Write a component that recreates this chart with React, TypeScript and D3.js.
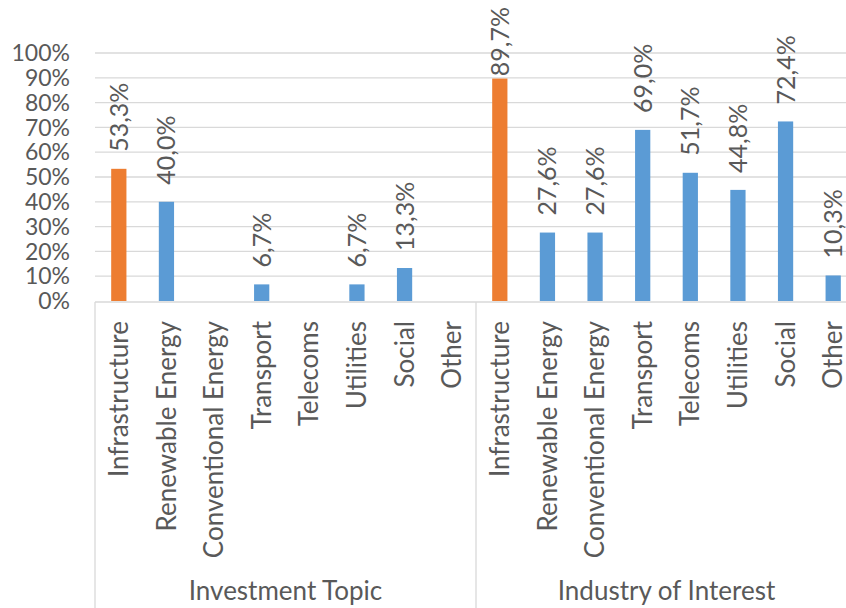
import React, { useEffect, useRef } from 'react';
import * as d3 from 'd3';

const groups = ['Investment Topic', 'Industry of Interest'];
const categories = [
  'Infrastructure',
  'Renewable Energy',
  'Conventional Energy',
  'Transport',
  'Telecoms',
  'Utilities',
  'Social',
  'Other',
];
// percent values, null = no answer shown
const investmentTopic: (number | null)[] = [53.3, 40.0, null, 6.7, null, 6.7, 13.3, null];
const industryOfInterest: (number | null)[] = [89.7, 27.6, 27.6, 69.0, 51.7, 44.8, 72.4, 10.3];
const yTicks = [0, 10, 20, 30, 40, 50, 60, 70, 80, 90, 100];

const ORANGE = '#ED7D31';
const BLUE = '#5B9BD5';
const TEXT = '#595959';
const GRID = '#D9D9D9';
const FONT = 'Lato, "Open Sans", sans-serif';

interface Bar {
  key: string;
  group: string;
  category: string;
  value: number | null;
}

const bars: Bar[] = [
  ...categories.map((c, i) => ({ key: `${groups[0]}|${c}`, group: groups[0], category: c, value: investmentTopic[i] })),
  ...categories.map((c, i) => ({ key: `${groups[1]}|${c}`, group: groups[1], category: c, value: industryOfInterest[i] })),
];

const App = () => {
  const svgRef = useRef<SVGSVGElement>(null);

  useEffect(() => {
    if (!svgRef.current) return;
    const width = 846;
    const height = 608;
    const svg = d3.select(svgRef.current);
    svg.selectAll('*').remove();

    const left = 95;
    const right = 857;
    const top = 53;
    const bottom = 301;
    const tickSize = 23;
    const labelSize = 25;
    const catSize = 26;

    const x = d3.scaleBand<string>()
      .domain(bars.map(d => d.key))
      .range([left, right])
      .paddingInner(0.68)
      .paddingOuter(0.34);

    const xGroup = d3.scaleBand<string>()
      .domain(groups)
      .range([left, right]);

    const y = d3.scaleLinear().domain([0, 100]).range([bottom, top]);

    // gridlines
    svg.append('g')
      .selectAll('line')
      .data(yTicks.slice(1))
      .enter()
      .append('line')
      .attr('x1', left)
      .attr('x2', right)
      .attr('y1', d => y(d))
      .attr('y2', d => y(d))
      .attr('stroke', GRID)
      .attr('stroke-width', 1.3);

    // y tick labels
    svg.append('g')
      .selectAll('text')
      .data(yTicks)
      .enter()
      .append('text')
      .attr('x', 70)
      .attr('y', d => y(d))
      .attr('dy', '0.36em')
      .attr('text-anchor', 'end')
      .attr('font-family', FONT)
      .attr('font-size', tickSize)
      .attr('fill', TEXT)
      .text(d => `${d}%`);

    // bars
    svg.append('g')
      .selectAll('rect')
      .data(bars.filter(d => d.value !== null))
      .enter()
      .append('rect')
      .attr('x', d => x(d.key)!)
      .attr('width', x.bandwidth())
      .attr('y', d => y(d.value!))
      .attr('height', d => y(0) - y(d.value!))
      .attr('fill', d => (d.category === 'Infrastructure' ? ORANGE : BLUE));

    // data labels, rotated, kept inside the top edge
    const labels = svg.append('g')
      .selectAll('text')
      .data(bars.filter(d => d.value !== null))
      .enter()
      .append('text')
      .attr('text-anchor', 'start')
      .attr('font-family', FONT)
      .attr('font-size', labelSize)
      .attr('fill', TEXT)
      .text(d => `${d.value!.toFixed(1).replace('.', ',')}%`);

    labels.each(function (d) {
      const el = this as SVGTextElement;
      const len = el.getComputedTextLength();
      let start = y(d.value!) - 17;
      if (start - len < 7) start = 7 + len;
      const cx = x(d.key)! + x.bandwidth() / 2;
      d3.select(el)
        .attr('transform', `translate(${cx},${start}) rotate(-90)`)
        .attr('dy', '0.36em');
    });

    // axis line
    svg.append('line')
      .attr('x1', left)
      .attr('x2', right)
      .attr('y1', bottom + 1)
      .attr('y2', bottom + 1)
      .attr('stroke', GRID)
      .attr('stroke-width', 1.3);

    // group separators
    const seps = [...groups.map(g => xGroup(g)!), right];
    svg.append('g')
      .selectAll('line')
      .data(seps)
      .enter()
      .append('line')
      .attr('x1', d => d)
      .attr('x2', d => d)
      .attr('y1', bottom + 1)
      .attr('y2', height)
      .attr('stroke', GRID)
      .attr('stroke-width', 1.3);

    // category labels
    svg.append('g')
      .selectAll('text')
      .data(bars)
      .enter()
      .append('text')
      .attr('transform', d => `translate(${x(d.key)! + x.bandwidth() / 2},${bottom + 20}) rotate(-90)`)
      .attr('dy', '0.35em')
      .attr('text-anchor', 'end')
      .attr('font-family', FONT)
      .attr('font-size', catSize)
      .attr('fill', TEXT)
      .text(d => d.category);

    // group labels
    svg.append('g')
      .selectAll('text')
      .data(groups)
      .enter()
      .append('text')
      .attr('x', d => xGroup(d)! + xGroup.bandwidth() / 2)
      .attr('y', 600)
      .attr('text-anchor', 'middle')
      .attr('font-family', FONT)
      .attr('font-size', catSize)
      .attr('fill', TEXT)
      .text(d => d);

    svg.attr('width', width).attr('height', height);
  }, []);

  return (
    <svg
      ref={svgRef}
      width={846}
      height={608}
      style={{ position: 'absolute', left: 0, top: 0, background: '#fff' }}
    />
  );
};

export default App;
